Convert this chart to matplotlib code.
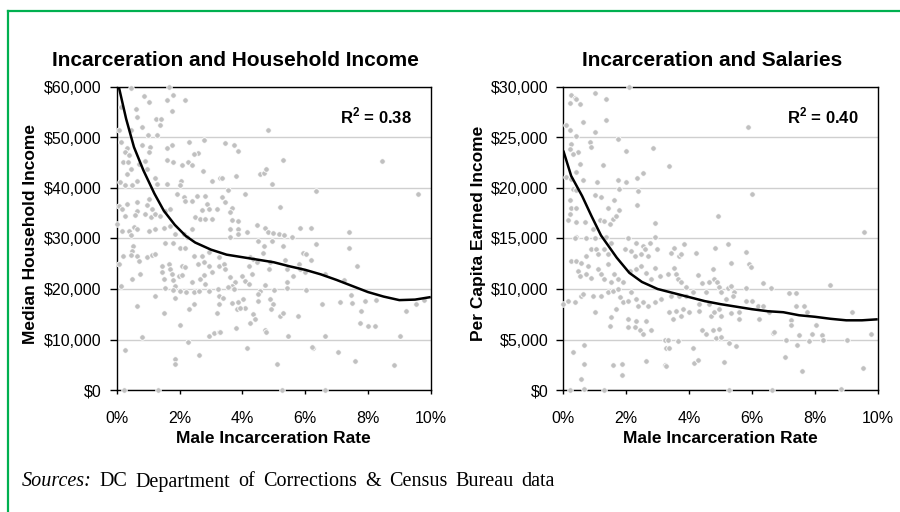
import numpy as np
import matplotlib
matplotlib.use("Agg")
import matplotlib.pyplot as plt
from matplotlib.ticker import FuncFormatter, MultipleLocator
from matplotlib.lines import Line2D

# ---------------- data (rate in %, income in thousands of $) ----------------
hh_points = [
(0.44,59.8),(1.66,60.0),(0.88,58.2),(1.04,57.1),(1.60,57.5),(1.80,58.5),(2.17,57.5),(1.76,55.2),(0.14,56.0),(0.60,55.7),
(0.66,54.0),(1.26,53.7),(1.40,53.7),(1.37,52.4),(0.80,52.0),(0.44,51.4),(0.06,51.4),(1.00,50.5),(1.28,50.5),(1.76,48.5),
(1.60,47.9),(2.31,49.2),(2.78,49.6),(0.15,49.1),(0.33,48.0),(0.28,47.1),(0.38,46.6),(0.79,48.5),(1.07,48.1),(1.02,47.1),
(0.19,45.1),(0.36,45.1),(0.44,43.8),(0.33,42.8),(0.70,44.8),(0.91,45.4),(0.97,43.7),(1.80,45.1),(1.60,45.6),(2.08,44.6),
(2.27,45.1),(2.40,44.6),(2.59,47.0),(2.45,46.8),(2.74,43.3),(3.04,41.4),(3.30,41.9),(0.12,41.1),(0.28,40.5),(0.49,40.5),
(0.65,41.4),(1.23,41.9),(1.28,40.8),(1.60,40.8),(2.06,41.4),(2.03,40.5),(1.92,38.8),(2.13,38.2),(2.40,37.5),(2.19,37.5),
(2.56,38.4),(2.82,38.5),(2.88,36.8),(2.93,35.8),(2.72,35.6),(2.50,34.2),(2.66,33.9),(2.82,33.9),(3.04,33.9),(3.20,35.8),
(0.06,36.5),(0.17,35.8),(0.33,36.8),(0.28,34.5),(0.65,37.2),(0.65,35.5),(0.59,34.7),(1.02,37.8),(0.97,36.6),(1.13,35.8),
(0.91,34.9),(1.10,34.2),(1.23,34.9),(1.39,34.5),(1.55,35.5),(1.71,35.8),(0.00,32.9),(0.17,31.5),(0.38,31.5),(0.54,32.2),
(0.65,31.9),(0.44,30.6),(1.02,31.5),(1.21,31.9),(1.50,32.0),(1.71,32.5),(1.87,30.9),(2.13,30.9),(2.24,30.2),(2.40,31.9),
(1.55,29.2),(1.80,29.2),(2.03,28.2),(2.19,28.2),(0.51,28.6),(0.49,27.6),(0.19,26.6),(0.44,26.7),(0.65,26.6),(0.97,26.3),
(1.13,26.7),(1.23,26.9),(0.06,24.9),(0.70,25.6),(1.44,24.6),(1.66,24.9),(1.71,23.9),(1.76,22.9),(2.08,24.6),(2.19,24.3),
(2.45,26.6),(2.59,24.9),(2.72,26.6),(2.77,25.3),(2.93,27.3),(3.25,26.3),(1.44,23.3),(1.50,22.0),(1.97,22.6),(2.08,22.8),
(0.75,22.9),(0.49,22.0),(1.80,21.8),(1.86,20.6),(2.40,21.4),(2.66,22.0),(2.82,21.0),(2.77,22.8),(2.93,24.6),(3.04,23.3),
(3.25,24.6),(0.14,20.5),(1.55,20.1),(1.80,19.8),(2.00,19.6),(2.20,19.4),(2.45,19.4),(2.63,19.6),(2.93,19.6),(3.23,20.0),
(1.21,18.7),(1.87,18.3),(3.25,18.7),(0.65,16.7),(2.31,16.0),(2.45,17.0),(1.50,15.2),(3.20,15.3),(3.25,17.0),(2.03,12.8),
(0.81,10.4),(2.93,10.6),(3.09,11.2),(3.25,11.4),(2.27,9.5),(0.28,7.9),(2.63,6.9),(1.87,6.2),(1.87,5.1),(0.22,0.0),(1.32,0.0),
(4.83,51.4),(3.44,48.9),(3.74,48.6),(3.85,47.3),(5.31,45.6),(3.34,41.9),(3.80,42.3),(4.56,42.7),(4.70,42.9),(4.76,43.8),
(4.96,40.8),(3.55,39.7),(4.10,38.8),(6.35,39.5),(3.34,38.2),(3.45,37.3),(3.66,36.0),(3.61,35.2),(3.66,33.7),(3.85,33.4),
(5.21,36.3),(3.61,31.9),(3.87,31.9),(3.61,30.2),(3.87,30.9),(4.14,31.2),(4.46,32.7),(4.72,32.0),(4.83,31.2),(4.99,31.1),
(5.18,30.9),(5.33,30.6),(5.57,30.2),(5.84,32.1),(6.18,32.1),(6.35,28.9),(4.51,29.6),(4.70,28.6),(4.94,29.6),(5.31,28.6),
(4.65,27.1),(5.94,27.1),(6.03,26.9),(4.25,26.3),(4.35,25.9),(4.46,25.3),(4.88,25.3),(5.36,25.8),(6.18,25.8),(5.79,24.9),
(3.42,24.9),(3.45,23.9),(4.20,24.5),(4.30,23.0),(4.86,23.9),(5.42,23.9),(5.84,23.9),(6.00,23.3),(5.63,22.6),(6.64,22.9),
(3.61,22.3),(3.77,21.3),(3.98,22.6),(4.09,21.6),(4.20,20.9),(3.66,20.6),(3.55,20.3),(3.72,20.0),(4.72,20.8),(5.42,20.2),
(5.02,19.9),(5.42,21.4),(6.03,19.8),(3.40,18.3),(3.66,17.3),(3.87,17.5),(4.03,18.0),(4.09,16.3),(3.82,16.0),(3.93,16.3),
(4.56,19.6),(4.51,19.0),(4.51,17.7),(4.88,18.0),(4.99,17.0),(4.90,16.0),(5.20,14.7),(5.31,15.3),(4.35,15.1),(4.41,14.0),
(4.25,13.2),(5.77,14.7),(6.53,17.0),(3.80,12.2),(4.72,11.9),(4.76,11.4),(5.47,10.6),(6.64,10.6),(4.14,8.4),(6.24,8.4),
(5.12,5.2),(5.28,0.0),(6.64,0.0),(3.29,11.4),(6.21,8.6),
(8.46,45.4),(9.58,38.8),(7.40,31.2),(7.40,28.1),(7.65,24.6),(7.24,21.8),(7.45,18.8),(7.49,17.3),(7.90,17.7),(8.27,17.9),
(7.10,17.5),(7.79,15.7),(7.76,13.2),(8.00,12.6),(8.22,12.6),(9.20,15.7),(9.54,17.0),(9.78,17.9),(9.03,10.7),(7.05,7.6),
(7.60,5.8),(8.82,5.0),
]

sal_points = [
(2.08,30.0),(0.25,29.2),(0.36,28.9),(0.20,28.4),(0.52,28.3),(0.41,28.8),(1.02,29.4),(1.37,28.8),(0.63,26.5),(1.37,26.7),
(0.10,26.2),(0.20,25.7),(0.41,25.1),(1.02,25.5),(0.84,24.6),(0.89,24.1),(1.74,24.9),(0.25,24.4),(0.20,23.9),(0.47,23.6),
(0.31,23.4),(2.00,23.7),(2.85,24.0),(1.26,22.3),(0.52,22.4),(0.41,21.6),(0.10,21.1),(0.25,20.9),(0.63,20.8),(1.08,20.6),
(1.74,20.8),(2.00,20.6),(2.34,21.0),(2.53,21.5),(2.38,19.7),(1.77,19.9),(0.31,19.9),(0.41,19.8),(1.02,19.3),(1.21,19.1),
(1.61,18.8),(1.42,18.0),(1.76,17.8),(2.33,18.3),(0.20,18.8),(0.25,18.0),(0.41,18.0),(0.20,17.4),(0.15,16.8),(0.41,16.6),
(0.68,16.6),(0.94,15.9),(1.17,16.8),(1.31,16.7),(1.58,16.9),(1.69,17.2),(1.47,16.4),(2.91,16.5),(0.41,15.1),(0.36,15.0),
(0.73,15.0),(1.00,15.0),(1.37,15.1),(1.53,14.6),(2.06,15.0),(2.32,14.6),(2.53,14.3),(2.75,14.6),(2.91,15.1),(0.89,14.0),
(1.05,14.0),(1.10,13.5),(1.31,14.0),(1.42,13.5),(0.73,13.3),(1.95,14.0),(2.16,13.8),(2.27,13.3),(2.46,13.5),(2.59,14.0),
(2.69,13.3),(2.99,14.0),(0.25,12.8),(0.41,12.8),(0.57,12.6),(0.79,12.3),(0.47,11.8),(0.73,11.5),(0.89,11.1),(0.52,11.3),
(1.10,12.0),(1.19,11.5),(1.42,12.5),(1.61,11.5),(1.31,11.0),(1.53,10.7),(1.74,11.0),(1.90,10.7),(2.11,11.8),(2.32,12.0),
(2.48,12.3),(2.64,11.6),(2.91,12.1),(3.07,11.3),(2.80,11.0),(0.00,8.5),(0.15,8.8),(0.36,8.7),(0.57,9.3),(0.63,9.5),
(0.94,9.3),(1.21,9.3),(1.42,9.7),(1.58,9.8),(1.74,10.0),(1.79,9.2),(1.90,8.7),(2.06,8.8),(2.16,9.7),(2.32,9.0),
(2.38,8.3),(2.53,8.7),(2.69,8.3),(2.91,8.7),(3.12,9.0),(1.00,7.7),(1.53,7.2),(1.69,8.0),(2.06,7.0),(2.32,6.8),
(2.06,6.2),(2.27,6.2),(2.43,5.95),(2.64,6.8),(2.53,5.5),(2.80,5.9),(1.47,6.3),(3.22,5.0),(3.28,4.2),(0.31,3.8),
(0.66,4.5),(0.66,2.6),(1.58,2.5),(1.87,2.6),(1.88,1.5),(2.64,2.9),(3.24,2.5),(0.57,1.1),(0.20,0.0),(0.66,0.1),(1.31,0.0),
(5.89,26.0),(3.35,22.2),(5.99,19.4),(4.92,17.2),(3.85,14.5),(3.53,14.1),(3.69,13.3),(3.74,13.5),(3.43,13.6),(4.22,13.6),
(4.83,14.1),(5.23,14.5),(5.34,12.6),(5.80,13.7),(5.90,12.5),(5.98,12.2),(3.32,11.5),(3.59,11.5),(3.53,12.1),(3.64,11.0),
(3.74,10.7),(3.90,10.2),(4.27,11.4),(4.41,10.6),(4.75,12.0),(4.80,11.0),(4.90,10.7),(4.96,10.2),(5.23,10.1),(5.34,10.3),
(5.44,9.7),(4.65,10.7),(5.81,10.1),(6.34,10.6),(6.61,10.1),(3.43,9.3),(3.69,9.3),(3.90,9.3),(4.11,9.7),(4.54,9.7),
(5.02,9.7),(5.18,9.0),(5.39,9.3),(3.37,7.7),(3.59,7.8),(3.80,8.0),(3.74,7.3),(3.48,7.0),(4.00,7.7),(4.32,8.5),
(4.33,7.8),(4.65,8.5),(4.70,7.3),(4.80,7.7),(4.96,8.0),(5.02,7.3),(5.34,7.6),(5.60,7.7),(5.81,8.8),(6.01,8.8),
(6.18,8.3),(6.34,8.3),(6.24,7.0),(6.55,7.7),(6.66,5.6),(5.58,7.0),(4.41,5.9),(4.54,5.5),(4.75,5.9),(4.96,6.0),
(4.86,5.1),(5.02,5.2),(5.28,4.7),(5.49,4.4),(3.32,5.0),(3.37,4.2),(3.64,4.9),(4.12,4.2),(5.12,2.8),(4.17,2.7),
(4.27,3.0),(3.27,2.4),(5.28,0.0),(6.64,0.0),
(9.57,15.6),(8.47,10.4),(7.18,9.6),(7.39,9.6),(7.39,8.3),(7.66,8.3),(7.76,7.7),(9.17,7.7),(7.23,6.9),(7.23,6.4),
(8.03,6.4),(7.09,5.0),(7.50,5.4),(7.44,4.5),(7.82,4.9),(7.92,5.5),(8.24,5.4),(8.27,5.0),(9.01,5.0),(9.78,5.5),
(6.70,5.7),(7.04,3.3),(7.60,1.9),(9.53,2.2),(8.82,0.1),
]

# fitted trend curves
hh_fit_rate = [0.05, 0.3, 0.55, 0.85, 1.2, 1.5, 1.85, 2.2, 2.5, 3.0, 3.5, 4.0, 4.5, 5.0, 5.5, 6.0,
               6.5, 7.0, 7.5, 8.0, 8.5, 9.0, 9.5, 10.0]
hh_fit_income = [60.5, 53.7, 48.1, 43.5, 38.9, 35.5, 32.7, 30.5, 29.2, 27.8, 26.8, 26.3, 25.8, 25.3,
                 24.5, 23.8, 22.9, 21.8, 20.6, 19.4, 18.5, 17.8, 17.9, 18.4]
sal_fit_rate = [0.0, 0.25, 0.6, 0.9, 1.2, 1.7, 2.1, 2.5, 3.0, 3.5, 4.0, 4.5, 5.0, 5.5, 6.0, 6.5,
                7.0, 7.5, 8.0, 8.5, 9.0, 9.5, 10.0]
sal_fit_income = [23.7, 21.2, 19.2, 17.2, 15.3, 13.1, 11.6, 10.7, 10.0, 9.6, 9.2, 8.8, 8.5, 8.25,
                  8.0, 7.8, 7.7, 7.4, 7.25, 7.05, 6.9, 6.9, 7.0]

titles = ["Incarceration and Household Income", "Incarceration and Salaries"]
ylabels = ["Median Household Income", "Per Capita Earned Income"]
xlabel = "Male Incarceration Rate"
r2_labels = ["R$^{\\mathregular{2}}$ = 0.38", "R$^{\\mathregular{2}}$ = 0.40"]
source_italic = "Sources:"
source_text = "DC Department of Corrections & Census Bureau data"

# ---------------- figure ----------------
plt.rcParams['font.family'] = ['Liberation Sans', 'DejaVu Sans']
W, H = 900, 512
fig = plt.figure(figsize=(W / 100, H / 100), dpi=100)

def fx(px):
    return px / W

def fy(py):
    return 1 - py / H

ax_specs = [
    dict(left=116.7, right=430.7, ymax=60, ystep=10, title_x=235, ylabel_x=31, ylabel_y=234),
    dict(left=563.3, right=877.7, ymax=30, ystep=5, title_x=712, ylabel_x=478, ylabel_y=233),
]
top_px, bot_px = 87, 390

datasets = [(hh_points, hh_fit_rate, hh_fit_income), (sal_points, sal_fit_rate, sal_fit_income)]

for i, (spec, (pts, fr, fi)) in enumerate(zip(ax_specs, datasets)):
    ax = fig.add_axes([fx(spec['left']), fy(bot_px), (spec['right'] - spec['left']) / W,
                       (bot_px - top_px) / H])
    rate = np.array([p[0] for p in pts])
    inc = np.array([p[1] for p in pts]) * 1000
    ax.set_xlim(0, 10)
    ax.set_ylim(0, spec['ymax'] * 1000)
    ax.yaxis.set_major_locator(MultipleLocator(spec['ystep'] * 1000))
    ax.xaxis.set_major_locator(MultipleLocator(2))
    ax.yaxis.set_major_formatter(FuncFormatter(lambda v, p: "${:,.0f}".format(v)))
    ax.xaxis.set_major_formatter(FuncFormatter(lambda v, p: "{:.0f}%".format(v)))
    ax.grid(axis='y', color='#cfcfcf', lw=1.0, zorder=0)
    ax.set_axisbelow(True)
    for s in ax.spines.values():
        s.set_color('black')
        s.set_linewidth(1.0)
    ax.tick_params(axis='y', direction='out', length=4.8, width=1, color='black',
                   labelsize=11.5, pad=6)
    ax.tick_params(axis='x', direction='out', length=3, width=1, color='black',
                   labelsize=11.5, pad=12)
    ax.scatter(rate, inc, s=16, color='#c0c0c0', edgecolors='white', linewidths=0.6,
               zorder=3, clip_on=False)
    ax.plot(fr, np.array(fi) * 1000, color='black', lw=1.8, zorder=4, solid_capstyle='butt')
    ax.set_xlabel(xlabel, fontsize=12.5, fontweight='bold', labelpad=4)
    ax.text(0.94, 0.905, r2_labels[i], transform=ax.transAxes, ha='right', va='center',
            fontsize=12, fontweight='bold')
    fig.text(fx(spec['title_x']), fy(60), titles[i], ha='center', va='center',
             fontsize=15, fontweight='bold')
    fig.text(fx(spec['ylabel_x']), fy(spec['ylabel_y']), ylabels[i], ha='center', va='center',
             rotation=90, fontsize=12.5, fontweight='bold')

# green frame (top and left edges)
green = '#00b050'
fig.add_artist(Line2D([fx(7.5), 1.0], [fy(11), fy(11)], color=green, lw=1.6))
fig.add_artist(Line2D([fx(7.5), fx(7.5)], [fy(11), 0.0], color=green, lw=1.6))

# sources line (justified-looking word spacing)
serif = ['Liberation Serif', 'DejaVu Serif']
words = [(source_italic, 'italic')] + [(w, 'normal') for w in source_text.split()]
src_left, src_right, src_y = 22, 555, 482
renderer = fig.canvas.get_renderer()
arts, widths = [], []
for w, st in words:
    t = fig.text(0, fy(src_y), w, ha='left', va='center', fontsize=14.5, fontstyle=st, family=serif)
    arts.append(t)
    widths.append(t.get_window_extent(renderer).width)
gap = (src_right - src_left - sum(widths)) / (len(words) - 1)
xpos = src_left
for t, wdt in zip(arts, widths):
    t.set_x(fx(xpos))
    xpos += wdt + gap

fig.savefig("out.png", dpi=100)
